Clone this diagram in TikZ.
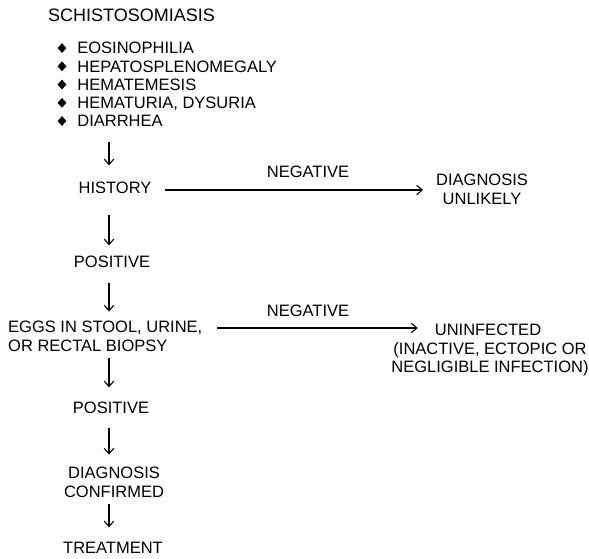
\documentclass[tikz,border=0pt]{standalone}
\usepackage{fontspec}
\setmainfont{Liberation Sans}
\usetikzlibrary{arrows.meta, positioning, shapes.geometric}

\newcommand{\bodyfont}{\fontsize{16.5}{18.5}\selectfont}

\begin{document}
\begin{tikzpicture}[
  x=1pt, y=-1pt,
  lbl/.style={inner sep=0pt, font=\bodyfont, text height=11.8pt, text depth=0pt},
  blk/.style={inner sep=0pt, font=\bodyfont, anchor=north},
  dot/.style={diamond, fill=black, inner sep=0pt, minimum width=9pt, minimum height=10pt},
  flow/.style={-{Straight Barb[length=5.5pt, width=9.5pt]}, line width=1.1pt}
]
  \useasboundingbox (0,0) rectangle (589,558);

  \node[inner sep=0pt, anchor=north west, font=\fontsize{18}{21}\selectfont] (title) at (48,8.5) {SCHISTOSOMIASIS};

  % symptoms
  \foreach \txt [count=\i] in {EOSINOPHILIA, HEPATOSPLENOMEGALY, HEMATEMESIS, {HEMATURIA, DYSURIA}, DIARRHEA} {
    \node[dot] (d\i) at (62, 29.8 + 18.25*\i) {};
    \node[lbl, right=10.5pt of d\i] (s\i) {\txt};
  }

  \coordinate (col) at (109,0);

  \node[lbl] (hist) at (115,188) {HISTORY};
  \node[blk, align=center] (unlikely) at (482,174.1) {DIAGNOSIS\\UNLIKELY};
  \node[lbl] (neg1) at (308,172) {NEGATIVE};

  \node[lbl] (pos1) at (112,262) {POSITIVE};
  \node[blk, anchor=north west, align=left] (eggs) at (8,321.1) {EGGS IN STOOL, URINE,\\OR RECTAL BIOPSY};
  \node[lbl] (neg2) at (308,311) {NEGATIVE};
  \node[lbl] (uninf) at (488,330) {UNINFECTED};
  \node[blk, align=center] (note) at (490,342.1) {(INACTIVE, ECTOPIC OR\\NEGLIGIBLE INFECTION)};

  \node[lbl] (pos2) at (111,408) {POSITIVE};
  \node[blk, align=center] (confirmed) at (114,467.1) {DIAGNOSIS\\CONFIRMED};
  \node[lbl] (treat) at (113,548) {TREATMENT};

  % down the main line
  \draw[flow, shorten <=15pt, shorten >=16.5pt] (s5.south -| col) -- (hist.north -| col);
  \draw[flow, shorten <=20.5pt, shorten >=10.5pt] (hist.south -| col) -- (pos1.north -| col);
  \draw[flow, shorten <=14.5pt, shorten >=9.5pt] (pos1.south -| col) -- (eggs.north -| col);
  \draw[flow, shorten <=6pt, shorten >=14.5pt] (eggs.south -| col) -- (pos2.north -| col);
  \draw[flow, shorten <=13.5pt, shorten >=12.5pt] (pos2.south -| col) -- (confirmed.north -| col);
  \draw[flow, shorten <=6pt, shorten >=14.5pt] (confirmed.south -| col) -- (treat.north -| col);

  % negative branches
  \draw[flow, shorten <=13.5pt, shorten >=13pt] ([yshift=-2pt]hist.east) -- ([yshift=-2pt]hist.east -| unlikely.west);
  \draw[flow, shorten <=15pt, shorten >=17pt] ([yshift=-6.9pt]eggs.north east) -- ([yshift=-6.9pt]eggs.north east -| uninf.west);
\end{tikzpicture}
\end{document}
